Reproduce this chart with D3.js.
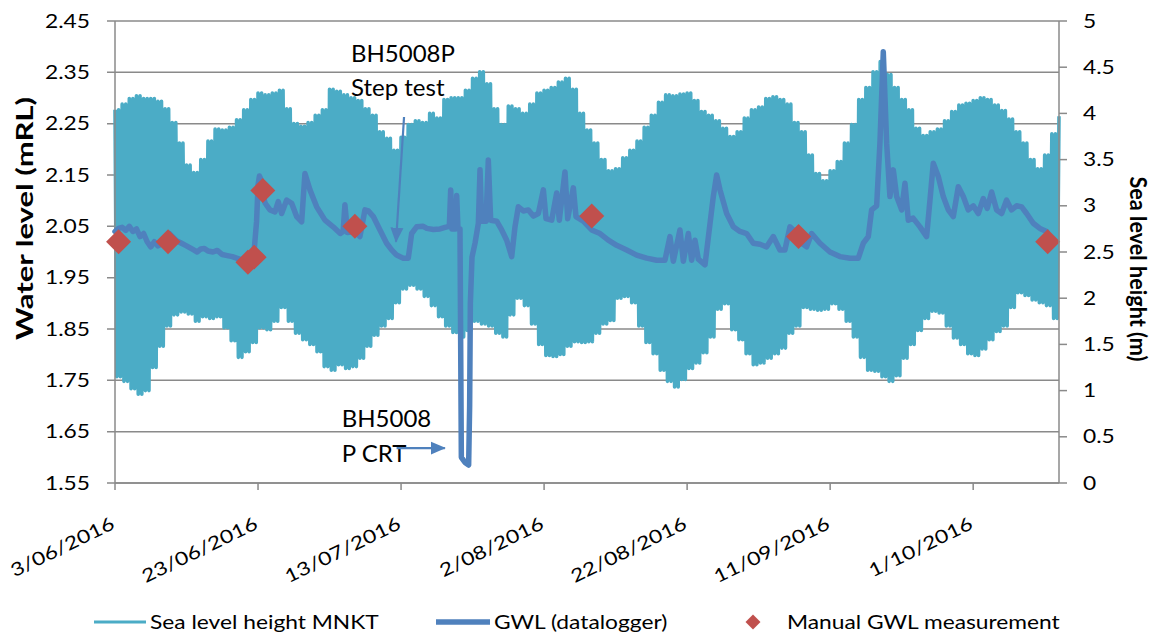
<!DOCTYPE html>
<html>
<head>
<meta charset="utf-8">
<script src="https://cdn.jsdelivr.net/npm/d3@7"></script>
<style>
  html, body { margin: 0; padding: 0; background: #fff; }
  svg { display: block; font-family: Lato, "Open Sans", sans-serif; }
</style>
</head>
<body>
<svg id="chart" width="1156" height="640"></svg>
<script>
// ---- Data -------------------------------------------------------------

// Date axis
const xStart = "3/06/2016";
const xEnd = "13/10/2016";
const xTickLabels = ["3/06/2016", "23/06/2016", "13/07/2016", "2/08/2016",
                     "22/08/2016", "11/09/2016", "1/10/2016"];
const yLeftTicks = [1.55, 1.65, 1.75, 1.85, 1.95, 2.05, 2.15, 2.25, 2.35, 2.45];
const yRightTicks = [0, 0.5, 1, 1.5, 2, 2.5, 3, 3.5, 4, 4.5, 5];

// Sea level height MNKT (m): daily high-water and low-water levels, 3 Jun - 13 Oct 2016
const seaHigh = [4.04,4.10,4.16,4.19,4.16,4.16,4.13,4.05,3.90,3.68,
  3.44,3.36,3.50,3.70,3.83,3.82,3.85,3.93,4.04,4.15,
  4.22,4.20,4.22,4.25,4.05,3.89,3.86,3.90,3.98,4.04,
  4.26,4.24,4.20,4.17,4.14,4.05,3.98,3.80,3.73,3.60,
  3.74,3.88,3.92,3.90,4.00,3.95,4.15,4.17,4.17,4.25,
  4.38,4.45,4.32,4.05,3.88,4.08,4.05,4.00,4.10,4.22,
  4.25,4.28,4.34,4.38,4.26,4.00,3.82,3.68,3.50,3.38,
  3.40,3.52,3.60,3.70,3.85,3.98,4.12,4.20,4.19,4.21,
  4.22,4.14,4.02,3.98,3.92,3.84,3.75,3.80,3.95,4.04,
  4.07,4.16,4.18,4.15,4.10,3.90,3.80,3.55,3.35,3.27,
  3.38,3.48,3.68,3.88,4.15,4.28,4.45,4.56,4.42,4.28,
  4.15,4.04,3.84,3.76,3.80,3.83,3.92,4.02,4.09,4.11,
  4.14,4.17,4.15,4.09,4.03,3.94,3.80,3.68,3.50,3.40,
  3.55,3.78,3.97];
const seaLow = [1.15,1.10,1.02,0.96,1.00,1.25,1.48,1.70,1.82,1.85,
  1.83,1.75,1.80,1.78,1.80,1.68,1.54,1.36,1.42,1.52,
  1.68,1.66,1.75,1.90,1.75,1.62,1.55,1.50,1.42,1.26,
  1.22,1.28,1.24,1.26,1.35,1.48,1.60,1.70,1.78,1.95,
  2.10,2.14,2.10,2.02,1.92,1.80,1.70,1.63,1.58,1.65,
  1.75,1.72,1.70,1.62,1.58,1.82,2.00,1.92,1.72,1.50,
  1.38,1.37,1.39,1.48,1.53,1.52,1.53,1.62,1.72,1.76,
  2.00,2.02,1.95,1.70,1.52,1.40,1.22,1.10,1.04,1.12,
  1.24,1.30,1.41,1.58,1.88,1.94,1.66,1.55,1.40,1.28,
  1.30,1.35,1.40,1.46,1.62,1.70,1.90,1.88,1.87,1.88,
  1.94,1.88,1.75,1.58,1.36,1.22,1.21,1.15,1.10,1.16,
  1.35,1.50,1.65,1.78,1.86,1.84,1.70,1.57,1.50,1.40,
  1.38,1.45,1.55,1.64,1.70,1.90,2.06,2.03,1.98,1.95,
  1.92,1.78,1.73];

// GWL (datalogger): elapsed days since 3/06/2016 00:00 and water level (mRL)
const gwlDay = [0.0,0.5,1.0,1.5,2.0,2.5,3.0,3.5,4.0,4.5,5.0,5.5,6.0,6.5,7.0,7.6,8.0,8.6,9.3,10.0,
  10.5,11.0,11.5,12.0,12.5,13.0,13.7,14.3,15.0,15.7,16.4,17.0,17.6,18.2,18.7,19.2,19.5,19.8,20.0,20.2,
  20.45,20.7,21.0,21.67,22.37,22.83,23.3,24.0,24.7,25.4,26.1,26.56,27.26,28.2,29.36,30.5,31.5,31.9,32.15,32.5,
  33.55,34.25,34.95,35.42,36.12,37.05,37.98,38.68,39.38,40.31,41.01,41.48,42.18,43.1,43.6,44.5,45.45,46.15,46.75,46.94,
  47.12,47.59,47.78,47.96,48.24,48.43,48.94,49.45,49.59,49.69,49.92,50.34,50.81,51.04,51.27,51.88,52.2,52.53,53.37,54.07,
  54.77,55.47,55.93,56.4,57.1,57.8,58.5,59.2,59.9,60.27,61.06,61.76,62.13,62.92,63.3,64.09,64.46,65.49,66.65,67.82,
  68.98,70.15,71.55,72.94,74.34,75.74,76.9,77.6,78.07,79.0,79.47,80.17,80.63,81.1,81.57,82.5,83.66,84.13,84.6,85.53,
  86.46,87.39,88.32,89.25,90.19,91.12,92.05,92.98,93.68,94.38,95.08,96.01,96.71,97.41,98.58,99.97,101.37,102.77,103.94,104.63,
  105.33,105.8,106.5,106.96,107.43,107.9,108.36,108.83,109.3,110.0,110.46,110.93,111.6,112.56,113.49,113.95,114.42,115.12,115.82,116.52,
  117.22,117.92,118.62,119.31,120.01,120.71,121.41,121.97,122.58,123.28,123.98,124.67,125.37,126.07,126.77,127.47,128.4,129.33,130.27];
const gwlLevel = [2.040,2.046,2.048,2.042,2.050,2.040,2.045,2.030,2.036,2.020,2.010,2.020,2.012,2.016,2.020,2.036,2.030,2.022,2.017,2.012,
  2.008,2.004,2.000,2.006,2.007,2.002,2.000,2.003,1.995,1.993,1.991,1.988,1.985,1.982,1.980,1.985,2.010,2.060,2.130,2.148,
  2.140,2.110,2.095,2.082,2.078,2.098,2.075,2.101,2.095,2.069,2.059,2.153,2.121,2.088,2.062,2.049,2.036,2.040,2.092,2.038,
  2.040,2.030,2.082,2.080,2.069,2.043,2.017,2.004,1.994,1.988,1.988,2.036,2.049,2.050,2.046,2.044,2.045,2.048,2.050,2.121,
  2.045,2.045,2.110,2.045,2.045,1.600,1.590,1.585,1.700,1.900,1.990,2.017,2.056,2.160,2.060,2.060,2.179,2.062,2.060,2.043,
  2.023,1.991,2.049,2.088,2.080,2.082,2.070,2.075,2.121,2.065,2.062,2.115,2.062,2.156,2.065,2.125,2.069,2.060,2.043,2.036,
  2.023,2.013,2.004,1.994,1.988,1.984,1.984,2.030,1.982,2.043,1.982,2.036,1.984,2.023,1.986,1.975,2.108,2.150,2.121,2.075,
  2.049,2.040,2.036,2.017,2.015,2.010,2.030,2.004,2.004,2.049,2.040,2.017,2.010,2.036,2.017,2.000,1.991,1.988,1.988,2.017,
  2.030,2.082,2.090,2.212,2.390,2.212,2.108,2.160,2.108,2.082,2.134,2.062,2.066,2.049,2.030,2.100,2.173,2.147,2.108,2.082,
  2.069,2.127,2.108,2.082,2.090,2.075,2.104,2.085,2.117,2.082,2.075,2.101,2.082,2.090,2.088,2.075,2.056,2.046,2.040];

// Manual GWL measurements
const manualDate = ["3/06/2016 12:00", "10/06/2016 10:00", "21/06/2016 14:00", "22/06/2016 11:00",
  "23/06/2016 16:00", "6/07/2016 13:00", "8/08/2016 16:00", "6/09/2016 14:00", "11/10/2016 10:00"];
const manualLevel = [2.02, 2.02, 1.98, 1.99, 2.12, 2.05, 2.07, 2.03, 2.02];

// Event annotations (date / water level anchors)
const noteText = [["BH5008P", "Step test"], ["BH5008", "P CRT"]];
const noteTextAt = [["6/07/2016 00:00", 2.370, 2.304], ["4/07/2016 17:00", 1.660, 1.591]];
const noteArrowFrom = [["13/07/2016 10:00", 2.263], ["12/07/2016 09:00", 1.618]];
const noteArrowTo = [["12/07/2016 07:00", 2.020], ["19/07/2016 03:00", 1.618]];

const legendLabels = ["Sea level height MNKT", "GWL (datalogger)", "Manual GWL measurement"];

// ---- Setup ------------------------------------------------------------
const parseDay = d3.timeParse("%d/%m/%Y");
const parseDT = d3.timeParse("%d/%m/%Y %H:%M");
const t0 = parseDay(xStart);

const plot = { left: 115, right: 1059, top: 21, bottom: 483 };
const seaColor = "#4BACC6", gwlColor = "#4F81BD", manColor = "#C0504D", gridColor = "#8a8a8a";

const x = d3.scaleTime().domain([t0, parseDay(xEnd)]).range([plot.left, plot.right]);
const yL = d3.scaleLinear().domain([1.55, 2.45]).range([plot.bottom, plot.top]);
const yR = d3.scaleLinear().domain([0, 5]).range([plot.bottom, plot.top]);

const svg = d3.select("#chart");

function measure(str, size, weight) {
  const t = svg.append("text").attr("font-size", size).attr("font-weight", weight || 400).text(str);
  const w = t.node().getComputedTextLength();
  t.remove();
  return w;
}
function label(parent, str, px, py, o) {
  return parent.append("text")
    .attr("font-size", o.size)
    .attr("font-weight", o.weight || 400)
    .attr("text-anchor", o.anchor || "start")
    .attr("fill", "#000")
    .attr("transform", `translate(${px},${py}) rotate(${o.rotate || 0}) scale(${o.sx || 1},1)`)
    .text(str);
}

const tickSize = 18.5;
const sxTick = 45 / measure("2.45", tickSize);
const noteSize = 23;
const sxNote = 104 / measure("BH5008P", noteSize);

// ---- Grid ------------------------------------------------------------
const grid = svg.append("g");
grid.selectAll("line.h").data(yLeftTicks).join("line")
  .attr("x1", plot.left - 8).attr("x2", plot.right)
  .attr("y1", d => yL(d)).attr("y2", d => yL(d))
  .attr("stroke", gridColor).attr("stroke-width", 1.5);

// ---- Sea level (tidal) series ----------------------------------------
const seaPts = [];
seaHigh.forEach((h, i) => {
  const day = d3.timeDay.offset(t0, i);
  seaPts.push({ t: day, v: h });
  if (i < seaHigh.length - 1) {
    seaPts.push({ t: d3.timeHour.offset(day, 6), v: seaLow[i] });
    seaPts.push({ t: d3.timeHour.offset(day, 12), v: h });
    seaPts.push({ t: d3.timeHour.offset(day, 18), v: seaLow[i] });
  }
});
svg.append("path")
  .datum(seaPts)
  .attr("fill", "none")
  .attr("stroke", seaColor)
  .attr("stroke-width", 3.6)
  .attr("stroke-linejoin", "round")
  .attr("d", d3.line().x(d => x(d.t)).y(d => yR(d.v)));

// axis lines
const axes = svg.append("g").attr("stroke", gridColor).attr("stroke-width", 1.5);
axes.append("line").attr("x1", plot.left).attr("x2", plot.left).attr("y1", plot.top).attr("y2", plot.bottom);
axes.append("line").attr("x1", plot.left).attr("x2", plot.right).attr("y1", plot.bottom).attr("y2", plot.bottom);

// ---- GWL datalogger ---------------------------------------------------
const gwlPts = gwlDay.map((d, i) => ({ t: new Date(+t0 + d * 864e5), v: gwlLevel[i] }));
svg.append("path")
  .datum(gwlPts)
  .attr("fill", "none")
  .attr("stroke", gwlColor)
  .attr("stroke-width", 5.5)
  .attr("stroke-linejoin", "round")
  .attr("stroke-linecap", "round")
  .attr("d", d3.line().x(d => x(d.t)).y(d => yL(d.v)));

// ---- Manual measurements ---------------------------------------------
const diamond = d3.symbol(d3.symbolSquare, 312)();
svg.append("g").selectAll("path").data(manualDate).join("path")
  .attr("d", diamond)
  .attr("fill", manColor)
  .attr("transform", (d, i) => `translate(${x(parseDT(d))},${yL(manualLevel[i])}) rotate(45)`);

// right axis line
svg.append("line").attr("x1", plot.right).attr("x2", plot.right)
  .attr("y1", plot.top).attr("y2", plot.bottom)
  .attr("stroke", gridColor).attr("stroke-width", 1.5);

// ---- Tick marks and labels -------------------------------------------
const ticks = svg.append("g").attr("stroke", gridColor).attr("stroke-width", 1.5);
ticks.selectAll("line.r").data(yRightTicks).join("line")
  .attr("x1", plot.right).attr("x2", plot.right + 8)
  .attr("y1", d => yR(d)).attr("y2", d => yR(d));
ticks.selectAll("line.b").data(xTickLabels).join("line")
  .attr("x1", d => x(parseDay(d))).attr("x2", d => x(parseDay(d)))
  .attr("y1", plot.bottom).attr("y2", plot.bottom + 7);

const labels = svg.append("g");
yLeftTicks.forEach(v => label(labels, v.toFixed(2), 90, yL(v) + 6.6, { size: tickSize, anchor: "end", sx: sxTick }));
yRightTicks.forEach(v => label(labels, String(v), 1083, yR(v) + 6.6, { size: tickSize, anchor: "start", sx: sxTick }));
xTickLabels.forEach(s => label(labels, s, x(parseDay(s)) + 1, 528, { size: tickSize, anchor: "end", rotate: -26, sx: sxTick }));

// axis titles
labels.append("text")
  .attr("transform", "translate(33,218.5) rotate(-90)")
  .attr("text-anchor", "middle").attr("font-size", 22.5).attr("font-weight", 700)
  .attr("textLength", 243).attr("lengthAdjust", "spacingAndGlyphs")
  .text("Water level (mRL)");
labels.append("text")
  .attr("transform", "translate(1130,269) rotate(90)")
  .attr("text-anchor", "middle").attr("font-size", 22.5).attr("font-weight", 700)
  .attr("textLength", 185).attr("lengthAdjust", "spacingAndGlyphs")
  .text("Sea level height (m)");

// ---- Annotations ------------------------------------------------------
const defs = svg.append("defs");
defs.append("marker")
  .attr("id", "arrowHead").attr("markerUnits", "userSpaceOnUse")
  .attr("viewBox", "0 -7 15 14").attr("refX", 14).attr("refY", 0)
  .attr("markerWidth", 15).attr("markerHeight", 14).attr("orient", "auto")
  .append("path").attr("d", "M0,-6.5L15,0L0,6.5Z").attr("fill", gwlColor);

const notes = svg.append("g");
noteText.forEach((lines, i) => {
  const [dt, v1, v2] = noteTextAt[i];
  const nx = x(parseDT(dt));
  label(notes, lines[0], nx, yL(v1), { size: noteSize, sx: sxNote });
  label(notes, lines[1], nx, yL(v2), { size: noteSize, sx: sxNote });
  notes.append("line")
    .attr("x1", x(parseDT(noteArrowFrom[i][0]))).attr("y1", yL(noteArrowFrom[i][1]))
    .attr("x2", x(parseDT(noteArrowTo[i][0]))).attr("y2", yL(noteArrowTo[i][1]))
    .attr("stroke", gwlColor).attr("stroke-width", 2.2)
    .attr("marker-end", "url(#arrowHead)");
});

// ---- Legend -----------------------------------------------------------
const lg = svg.append("g");
const lgY = 622;
lg.append("line").attr("x1", 94).attr("x2", 146).attr("y1", lgY).attr("y2", lgY)
  .attr("stroke", seaColor).attr("stroke-width", 3);
label(lg, legendLabels[0], 150, lgY + 6.8, { size: tickSize, sx: sxTick });
lg.append("line").attr("x1", 436).attr("x2", 490).attr("y1", lgY).attr("y2", lgY)
  .attr("stroke", gwlColor).attr("stroke-width", 5.5);
label(lg, legendLabels[1], 494, lgY + 6.8, { size: tickSize, sx: sxTick });
lg.append("path").attr("d", d3.symbol(d3.symbolSquare, 112)())
  .attr("fill", manColor).attr("transform", `translate(753,${lgY}) rotate(45)`);
label(lg, legendLabels[2], 787, lgY + 6.8, { size: tickSize, sx: sxTick });
</script>
</body>
</html>
